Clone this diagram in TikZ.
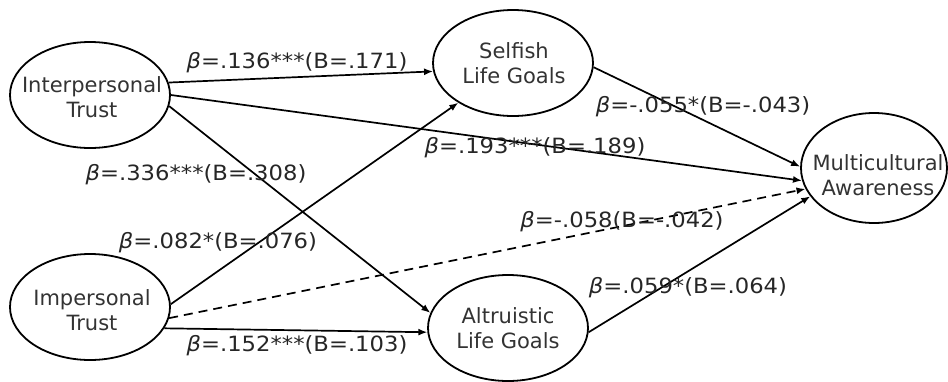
\documentclass[tikz,border=0pt]{standalone}
\usepackage{fontspec}
\setmainfont{DejaVu Sans}
\newfontfamily\labfont[FakeStretch=1.08]{DejaVu Sans}
\usetikzlibrary{arrows.meta, shapes.geometric}
\newcommand\betasym{\textit{β}}
\begin{document}
\begin{tikzpicture}[x=1pt,y=-1pt,
  var/.style={ellipse, draw, line width=1.8pt, minimum width=160pt, minimum height=106pt, inner sep=0pt},
  vartext/.style={align=center, font=\fontsize{21}{25}\selectfont, inner sep=0pt, text=black!80},
  conn/.style={line width=1.7pt, -{Latex[length=9pt,width=7pt]}},
  lab/.style={font=\fontsize{21}{25}\labfont, inner sep=0pt, text=black!85}
]
\useasboundingbox (0,0) rectangle (948,381);

% variables
\node[var] (inter) at (90,95) {};
\node[vartext] (intert) at (92,97) {Interpersonal\\Trust};
\node[var] (imp) at (90,307) {};
\node[vartext] (impt) at (92,310) {Impersonal\\Trust};
\node[var] (self) at (513,63) {};
\node[vartext] (selft) at (514,63) {Selfish\\Life Goals};
\node[var] (alt) at (508,328) {};
\node[vartext] (altt) at (508,328) {Altruistic\\Life Goals};
\node[var, minimum width=146pt, minimum height=110pt] (multi) at (874,168) {};
\node[vartext] (multit) at (878,175) {Multicultural\\Awareness};

% paths
\draw[conn] (inter.9) -- (self.186);
\draw[conn] (inter.0) -- (multi.190);
\draw[conn] (inter.-8) -- (alt.169);
\draw[conn] (imp.2) -- (self.216);
\draw[conn, dash pattern=on 9pt off 6pt] (imp.-8) -- (multi.197);
\draw[conn] (imp.-16) -- (alt.183);
\draw[conn] (self.-3) -- (multi.179);
\draw[conn] (alt.-3) -- (multi.204);

% labels
\node[lab] (l1) at (297,63) {\betasym=.136***(B=.171)};
\node[lab] (l2) at (535,148) {\betasym=.193***(B=.189)};
\node[lab] (l3) at (196,175) {\betasym=.336***(B=.308)};
\node[lab] (l4) at (218,243) {\betasym=.082*(B=.076)};
\node[lab] (l5) at (622,222) {\betasym=-.058(B=-.042)};
\node[lab] (l6) at (297,346) {\betasym=.152***(B=.103)};
\node[lab] (l7) at (703,107) {\betasym=-.055*(B=-.043)};
\node[lab] (l8) at (688,288) {\betasym=.059*(B=.064)};
\end{tikzpicture}
\end{document}
